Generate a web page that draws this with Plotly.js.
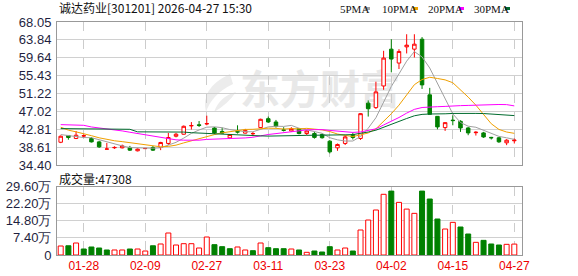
<!DOCTYPE html>
<html><head><meta charset="utf-8">
<script src="https://cdn.plot.ly/plotly-3.0.1.min.js"></script>
<style>html,body{margin:0;padding:0;background:#fff;}#c{width:578px;height:276px;}</style>
</head><body><div id="c"></div>
<script>
const dates = ["01-23","01-26","01-27","01-28","01-29","01-30","02-02","02-03","02-04","02-05","02-06","02-09","02-10","02-11","02-12","02-13","02-24","02-25","02-26","02-27","03-02","03-03","03-04","03-05","03-06","03-09","03-10","03-11","03-12","03-13","03-16","03-17","03-18","03-19","03-20","03-23","03-24","03-25","03-26","03-27","03-30","03-31","04-01","04-02","04-03","04-07","04-08","04-09","04-10","04-13","04-14","04-15","04-16","04-17","04-20","04-21","04-22","04-23","04-24","04-27"];
const tickDates = ["01-28","02-09","02-27","03-11","03-23","04-02","04-15","04-27"];
const open = [39.75,41.35,40.64,41.2,40.64,39.84,38.14,38.45,38.44,38.53,37.74,38.25,38.53,38.53,39.47,41.17,41.64,43.6,43.85,44.05,43.11,42.3,40.78,42.3,41.9,41.75,43.21,45.3,44.52,42.65,42.41,42.97,41.8,41.8,41.57,40.0,38.44,39.47,41.57,40.64,48.96,47.9,53.0,61.66,58.39,62.2,61.66,64.0,50.91,45.85,43.2,44.95,44.68,43.12,42.0,41.95,40.9,40.8,39.62,40.1];
const high = [41.35,41.45,42.4,41.6,40.95,40.1,39.6,38.8,39.2,38.9,38.3,38.4,38.9,39.85,41.95,41.95,43.7,44.5,44.75,46.0,43.35,43.2,41.7,43.74,42.9,42.18,45.3,45.8,45.0,43.3,43.3,43.1,42.6,42.2,41.8,40.26,39.45,41.5,42.04,46.6,49.6,54.0,61.27,64.0,61.66,65.17,65.17,64.5,52.55,45.9,44.4,46.08,44.92,43.36,42.35,42.19,41.02,41.0,40.47,40.63];
const low = [39.55,40.35,40.5,40.8,39.7,38.4,38.1,38.2,38.3,37.7,37.6,38.2,37.7,37.9,39.1,40.9,41.55,42.75,43.35,43.75,41.64,41.8,40.5,41.8,41.8,41.18,43.1,44.3,43.2,42.3,42.2,41.6,41.41,40.6,40.6,37.13,37.74,39.1,40.4,40.3,45.8,47.6,52.1,56.2,56.99,60.65,59.7,52.3,46.3,42.8,42.42,43.75,42.19,41.41,41.33,40.79,40.4,39.6,39.07,39.46];
const close = [41.17,40.87,41.41,41.3,39.84,38.67,38.16,38.53,38.9,37.9,38.14,38.3,37.9,39.7,40.87,41.64,43.51,43.68,43.72,44.15,41.95,41.9,41.57,42.15,42.55,41.8,45.15,44.52,43.51,42.58,42.97,41.8,42.41,40.9,40.82,37.5,39.23,41.01,40.87,46.48,47.64,51.6,59.56,59.33,61.12,62.6,62.83,53.25,46.32,43.36,44.37,44.85,43.12,41.95,42.1,41.0,40.8,39.85,40.24,40.25];
const volume = [39000,40000,52000,26000,34700,30300,21700,21700,21700,26000,26000,17300,40000,47700,95300,43300,49000,49000,30300,78000,44800,36100,27400,34700,21700,18800,52000,31800,27400,27400,26000,21700,11600,17300,13000,36000,21700,30300,17300,108300,151600,195000,263000,277000,228000,199000,180500,277000,242600,156000,112700,141500,121300,91000,54900,63500,47700,43300,46200,47308];
const ma5 = [41.56,41.33,41.17,40.86,40.83,40.34,39.84,39.30,38.90,38.50,38.40,38.46,38.35,38.45,39.05,39.73,40.73,41.84,42.64,43.30,43.38,43.18,42.74,42.54,42.24,42.22,42.75,43.37,43.52,43.48,43.72,43.05,42.67,42.18,41.86,40.82,40.32,40.04,40.04,41.12,43.06,45.52,49.19,52.88,55.84,58.84,61.09,59.83,57.22,53.67,50.03,46.43,44.40,43.53,43.28,42.60,41.79,41.14,40.80,40.43];
const ma10 = [43.3,42.6,42.2,41.8,41.3,40.8,40.4,40.1,39.9,39.67,39.37,39.15,38.83,38.68,38.78,39.07,39.60,40.10,40.55,41.18,41.56,41.96,42.29,42.59,42.77,42.80,42.97,43.06,43.03,42.86,42.97,42.90,43.02,42.85,42.67,42.27,41.69,41.36,41.11,41.49,41.94,42.92,44.62,46.46,48.48,50.95,53.30,54.51,55.05,54.76,54.43,53.76,52.12,50.38,48.48,46.32,44.11,42.77,42.16,41.85];
const ma20 = [43.9,43.9,43.82,43.74,43.35,43.12,42.97,42.81,42.42,42.11,41.8,41.56,41.17,40.86,40.47,40.32,40.24,40.24,40.24,40.42,40.46,40.55,40.56,40.63,40.77,40.93,41.28,41.58,41.79,42.02,42.26,42.43,42.66,42.72,42.72,42.54,42.33,42.21,42.07,42.18,42.46,42.91,43.82,44.65,45.58,46.61,47.49,47.93,48.08,48.12,48.19,48.34,48.37,48.42,48.48,48.63,48.71,48.64,48.61,48.31];
const ma30 = [42.97,42.97,42.97,42.97,42.97,42.97,42.8,42.8,42.8,42.8,42.2,42.2,42.2,42.2,42.2,42.2,42.15,42.0,41.9,41.8,41.7,41.6,41.5,41.45,41.4,41.33,41.25,41.2,41.2,41.23,41.30,41.34,41.38,41.37,41.41,41.38,41.42,41.50,41.56,41.84,42.16,42.59,43.31,43.97,44.64,45.34,45.98,46.31,46.40,46.37,46.45,46.53,46.58,46.56,46.54,46.51,46.37,46.21,46.11,46.03];
const priceTicks = [34.40,38.61,42.81,47.02,51.22,55.43,59.64,63.84,68.05];
const volTicks = [0,74000,148000,222000,296000];
const volTickText = ["0","7.40万","14.80万","22.20万","29.60万"];
const maNames = ["5PMA","10PMA","20PMA","30PMA"];
const maColors = ["#a0a0a0","#f0a000","#ff00ff","#006b2e"];
const titleText = "诚达药业[301201] 2026-04-27 15:30";
const watermarkText = "东方财富";

const RED = "#ff0000", GREEN = "#008000";
const L = 57, R = 522, T = 22, B = 255;
const px = x => (x - L) / (R - L);
const py = y => (B - y) / (B - T);

const volUp = close.map((c, i) => i === 0 ? c >= open[i] : c > close[i - 1]);

const traces = [
  {type: "candlestick", x: dates, open, high, low, close, xaxis: "x", yaxis: "y",
   increasing: {line: {color: RED, width: 1}, fillcolor: "#ffffff"},
   decreasing: {line: {color: GREEN, width: 1}, fillcolor: GREEN},
   whiskerwidth: 0, showlegend: false, hoverinfo: "skip"}
];
[ma5, ma10, ma20, ma30].forEach((m, k) => traces.push({
  type: "scatter", mode: "lines", x: dates, y: m, xaxis: "x", yaxis: "y",
  line: {color: maColors[k], width: 1}, showlegend: false, hoverinfo: "skip"}));
traces.push({
  type: "bar", x: dates, y: volume, xaxis: "x2", yaxis: "y2",
  marker: {color: volUp.map(u => u ? "#ffffff" : GREEN),
           line: {color: volUp.map(u => u ? RED : GREEN), width: 1}},
  showlegend: false, hoverinfo: "skip"});

const xr = [-0.48, 60.0];
const annotations = [
  {text: titleText, x: px(57), y: py(8), xref: "paper", yref: "paper", xanchor: "left", yanchor: "middle",
   showarrow: false, font: {family: "Noto Sans CJK SC", size: 12, color: "#111"}},
  {text: "成交量:" + volume[volume.length - 1], x: px(57), y: py(178), xref: "paper", yref: "paper",
   xanchor: "left", yanchor: "middle", showarrow: false, font: {family: "Noto Sans CJK SC", size: 12, color: "#111"}}
];
const shapes = [
  {type: "rect", xref: "paper", yref: "paper", layer: "below", x0: px(238), x1: px(402), y0: py(114), y1: py(72),
   line: {width: 0}, fillcolor: "rgba(0,0,0,0)",
   label: {text: watermarkText, textposition: "middle center",
           font: {family: "Noto Sans CJK SC", size: 40, color: "#e8e8e8", weight: 700}}},
  {type: "path", xref: "paper", yref: "paper", layer: "below",
   path: "M" + px(230) + "," + py(74) + " Q" + px(200) + "," + py(88) + " " + px(206) + "," + py(112) +
         " Q" + px(212) + "," + py(94) + " " + px(233) + "," + py(84) + " Z",
   fillcolor: "#ececec", line: {width: 0}},
  {type: "path", xref: "paper", yref: "paper", layer: "below",
   path: "M" + px(214) + "," + py(112) + " Q" + px(220) + "," + py(96) + " " + px(236) + "," + py(92) +
         " Q" + px(228) + "," + py(104) + " " + px(214) + "," + py(112) + " Z",
   fillcolor: "#ececec", line: {width: 0}}
];
const legX = [338, 380, 426, 472];
const swX = [365, 413, 459, 505];
maNames.forEach((n, k) => {
  annotations.push({text: n, x: px(legX[k]), y: py(8.5), xref: "paper", yref: "paper", xanchor: "left", yanchor: "middle",
    showarrow: false, font: {family: "Liberation Serif", size: 11, color: "#111"}});
  shapes.push({type: "rect", xref: "paper", yref: "paper", x0: px(swX[k]), x1: px(swX[k] + 5), y0: py(10), y1: py(7),
    fillcolor: maColors[k], line: {width: 0}});
});

const axFont = {family: "Liberation Sans", size: 13, color: "#1f1f3f"};
const layout = {
  width: 578, height: 276, margin: {l: L, r: 578 - R, t: T, b: 276 - B},
  paper_bgcolor: "#fff", plot_bgcolor: "#fff", showlegend: false, boxgap: 0.35, bargap: 0.35,
  font: {family: "Liberation Sans"},
  xaxis: {type: "category", domain: [0, 1], anchor: "y", range: xr, showticklabels: false,
    tickvals: tickDates, showgrid: true, gridcolor: "#cccccc", griddash: "dash", gridwidth: 1,
    showline: true, mirror: true, linecolor: "#999", linewidth: 1, ticks: "", rangeslider: {visible: false}, fixedrange: true},
  xaxis2: {type: "category", domain: [0, 1], anchor: "y2", range: xr, matches: "x",
    tickvals: tickDates, ticktext: tickDates, showgrid: true, gridcolor: "#cccccc", griddash: "dash", gridwidth: 1,
    showline: true, mirror: true, linecolor: "#999", linewidth: 1, ticks: "",
    tickfont: {family: "Liberation Sans", size: 12, color: "#ee0000"}, rangeslider: {visible: false}},
  yaxis: {domain: [py(165), 1], range: [34.40, 68.05], tickvals: priceTicks,
    ticktext: priceTicks.map(v => v.toFixed(2)), showgrid: true, gridcolor: "#d0d0d0", zeroline: false,
    showline: true, mirror: true, linecolor: "#999", linewidth: 1, ticks: "", tickfont: axFont, ticklabelstandoff: 2},
  yaxis2: {domain: [0, py(186.7)], range: [0, 296000], tickvals: volTicks, ticktext: volTickText,
    showgrid: true, gridcolor: "#d0d0d0", zeroline: false,
    showline: true, mirror: true, linecolor: "#999", linewidth: 1, ticks: "", tickfont: axFont, ticklabelstandoff: 2},
  annotations, shapes
};
Plotly.newPlot("c", traces, layout, {staticPlot: true, displayModeBar: false});
</script></body></html>
